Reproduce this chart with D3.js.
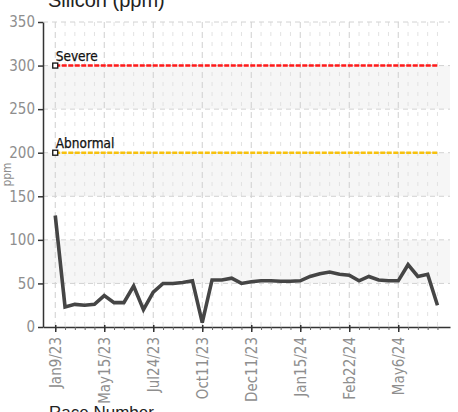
<!DOCTYPE html>
<html>
<head>
<meta charset="utf-8">
<script src="https://cdn.jsdelivr.net/npm/d3@7"></script>
<style>
  body { margin: 0; background: #fff; }
  svg { display: block; }
  .narrow { font-family: "Liberation Sans Narrow", "DejaVu Sans Condensed", "Roboto", sans-serif; }
</style>
</head>
<body>
<div id="chart"></div>
<script>
// silicon readings per race, one value per sample
var silicon = [128, 23, 26, 25, 26, 36, 28, 28, 47, 20,
               40, 50, 50, 51, 53, 5, 54, 54, 56, 50,
               52, 53, 53, 52.5, 52.5, 53, 58, 61, 63, 60.5,
               59.5, 53, 58, 54, 53, 53, 71.5, 58, 60.5, 25];

// labelled races (every 5th sample)
var tickIndex = [0, 5, 10, 15, 20, 25, 30, 35];
var tickLabels = ["Jan9/23", "May15/23", "Jul24/23", "Oct11/23",
                  "Dec11/23", "Jan15/24", "Feb22/24", "May6/24"];

var limitNames = ["Severe", "Abnormal"];
var limitValues = [300, 200];
var limitColors = ["#ff1a1a", "#f7c10d"];

var yTicks = [0, 50, 100, 150, 200, 250, 300, 350];

var w = 458;
var h = 412;

var svg = d3.select("#chart")
            .append("svg")
            .attr("width", w)
            .attr("height", h);

var x = d3.scaleLinear()
          .domain([-1.25, 40.28])
          .range([43, 450]);

var y = d3.scaleLinear()
          .domain([0, 350])
          .range([327, 22]);

// shaded bands every other 50
var bands = [50, 150, 250];
svg.selectAll("rect.band")
   .data(bands)
   .enter()
   .append("rect")
   .attr("class", "band")
   .attr("x", x(-1.25))
   .attr("width", x(40.28) - x(-1.25))
   .attr("y", function(d) { return y(d + 50); })
   .attr("height", function(d) { return y(d) - y(d + 50); })
   .attr("fill", "#f6f6f6");

// vertical grid, one per race
var idx = d3.range(silicon.length);
svg.selectAll("line.vgrid")
   .data(idx)
   .enter()
   .append("line")
   .attr("x1", function(d) { return x(d); })
   .attr("x2", function(d) { return x(d); })
   .attr("y1", y(350))
   .attr("y2", y(0))
   .attr("stroke", function(d) { return d % 5 == 0 ? "#cfcfcf" : "#e2e2e2"; })
   .attr("stroke-width", 1)
   .attr("stroke-dasharray", function(d) { return d % 5 == 0 ? "6,4" : "4,6"; });

// horizontal grid
svg.selectAll("line.hgrid")
   .data(yTicks.slice(1))
   .enter()
   .append("line")
   .attr("x1", x(-1.25))
   .attr("x2", x(40.28))
   .attr("y1", function(d) { return y(d); })
   .attr("y2", function(d) { return y(d); })
   .attr("stroke", "#d2d2d2")
   .attr("stroke-width", 1)
   .attr("stroke-dasharray", "5,4");

// limit lines
limitValues.forEach(function(v, i) {
    svg.append("line")
       .attr("x1", x(0))
       .attr("x2", x(silicon.length - 1))
       .attr("y1", y(v))
       .attr("y2", y(v))
       .attr("stroke", limitColors[i])
       .attr("stroke-width", 2.6)
       .attr("stroke-dasharray", "5,1.5");
    svg.append("rect")
       .attr("x", x(0) - 2.5)
       .attr("y", y(v) - 2.5)
       .attr("width", 5)
       .attr("height", 5)
       .attr("fill", "#fff")
       .attr("stroke", "#111")
       .attr("stroke-width", 1.3);
    svg.append("text")
       .attr("class", "narrow")
       .attr("x", x(0) + 0.5)
       .attr("y", y(v) - 5)
       .attr("font-size", 13.5)
       .attr("fill", "#111")
       .attr("stroke", "#111")
       .attr("stroke-width", 0.25)
       .text(limitNames[i]);
});

// the data line
var line = d3.line()
             .x(function(d, i) { return x(i); })
             .y(function(d) { return y(d); });

svg.append("path")
   .datum(silicon)
   .attr("d", line)
   .attr("fill", "none")
   .attr("stroke", "#454545")
   .attr("stroke-width", 3.6)
   .attr("stroke-linejoin", "miter");

// y axis
var yAxis = svg.append("g")
   .attr("transform", "translate(" + x(-1.25) + ",0)")
   .call(d3.axisLeft(y).tickValues(yTicks).tickSize(5).tickPadding(3).tickSizeOuter(0));
yAxis.select(".domain").attr("stroke", "#333").attr("stroke-width", 1.5);
yAxis.selectAll(".tick line").attr("stroke", "#333").attr("stroke-width", 1.5);
yAxis.selectAll("text")
     .attr("class", "narrow")
     .attr("font-size", 15)
     .attr("fill", "#8e8e8e");

// x axis, minor ticks first
var xMinor = svg.append("g")
   .attr("transform", "translate(0," + y(0) + ")")
   .call(d3.axisBottom(x).tickValues(idx).tickSize(3).tickFormat("").tickSizeOuter(0));
xMinor.select(".domain").attr("stroke", "#333").attr("stroke-width", 1.5);
xMinor.selectAll(".tick line").attr("stroke", "#666");

var xAxis = svg.append("g")
   .attr("transform", "translate(0," + y(0) + ")")
   .call(d3.axisBottom(x).tickValues(tickIndex)
          .tickFormat(function(d, i) { return tickLabels[i]; })
          .tickSize(5).tickSizeOuter(0));
xAxis.select(".domain").remove();
xAxis.selectAll(".tick line").attr("stroke", "#333").attr("stroke-width", 1.5).attr("y1", -2);
xAxis.selectAll("text")
     .attr("class", "narrow")
     .attr("font-size", 15)
     .attr("fill", "#8e8e8e")
     .attr("transform", "rotate(-90)")
     .attr("text-anchor", "end")
     .attr("x", -10)
     .attr("y", 0)
     .attr("dy", "0.35em");

// axis titles
svg.append("text")
   .attr("class", "narrow")
   .attr("transform", "translate(11," + y(175) + ") rotate(-90)")
   .attr("text-anchor", "middle")
   .attr("font-size", 12)
   .attr("fill", "#8e8e8e")
   .text("ppm");

svg.append("text")
   .attr("x", 48)
   .attr("y", 7)
   .attr("font-family", "Liberation Sans, Arial, sans-serif")
   .attr("font-size", 20)
   .attr("fill", "#222")
   .text("Silicon (ppm)");

svg.append("text")
   .attr("x", 49)
   .attr("y", 418)
   .attr("font-family", "Liberation Sans, Arial, sans-serif")
   .attr("font-size", 17)
   .attr("fill", "#222")
   .text("Race Number");
</script>
</body>
</html>
